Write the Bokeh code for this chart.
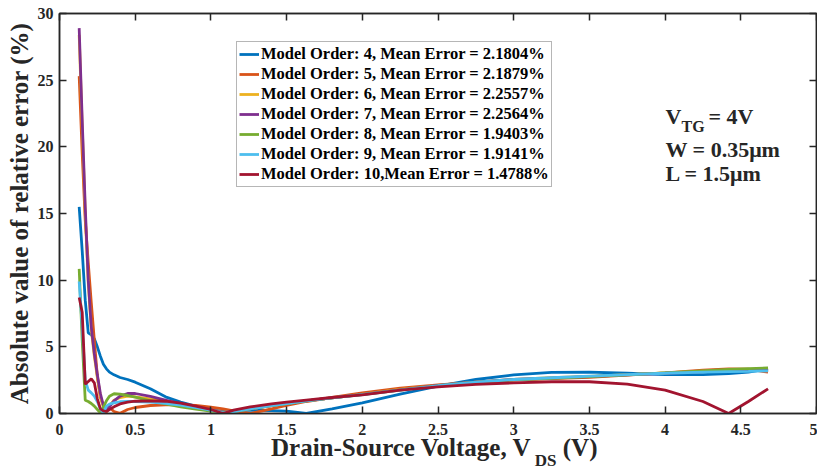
from bokeh.embed import file_html
from bokeh.models import (CustomJSTickFormatter, FixedTicker, Label, LinearAxis,
                          Range1d)
from bokeh.plotting import figure
from bokeh.resources import INLINE

# Drain-source voltage samples (V)
vds = [0.13, 0.15, 0.17, 0.19, 0.21, 0.23, 0.25, 0.27, 0.29, 0.31,
       0.33, 0.36, 0.40, 0.45, 0.50, 0.60, 0.70, 0.80, 0.90, 1.00,
       1.08, 1.15, 1.26, 1.40, 1.50, 1.63, 1.80, 2.00, 2.25, 2.50,
       2.75, 3.00, 3.25, 3.50, 3.75, 4.00, 4.25, 4.42, 4.55, 4.68]

# Absolute relative error (%) for each model order
err_order4 = [15.5, 12.2, 8.5, 6.05, 5.9, 5.6, 5.0, 4.3, 3.7, 3.35,
              3.1, 2.9, 2.7, 2.55, 2.35, 1.85, 1.25, 0.85, 0.55, 0.3,
              0.15, 0.2, 0.25, 0.22, 0.18, 0.0, 0.35, 0.8, 1.45, 2.05,
              2.55, 2.9, 3.08, 3.1, 3.02, 2.92, 2.92, 3.0, 3.1, 3.35]
err_order5 = [25.3, 19.5, 14.5, 11.3, 8.3, 5.5, 2.8, 1.2, 0.6, 0.5,
              0.45, 0.15, 0.02, 0.3, 0.45, 0.6, 0.65, 0.65, 0.6, 0.48,
              0.35, 0.2, 0.0, 0.35, 0.6, 0.9, 1.2, 1.55, 1.9, 2.15,
              2.35, 2.5, 2.62, 2.72, 2.88, 3.05, 3.25, 3.35, 3.32, 3.1]
err_order6 = [28.4, 21.5, 15.0, 9.8, 6.3, 4.3, 2.7, 1.3, 0.45, 0.1,
              0.55, 1.0, 1.2, 1.3, 1.25, 1.1, 0.9, 0.65, 0.45, 0.28,
              0.1, 0.15, 0.35, 0.6, 0.75, 0.95, 1.18, 1.45, 1.8, 2.1,
              2.35, 2.55, 2.68, 2.78, 2.92, 3.05, 3.18, 3.25, 3.28, 3.3]
err_order7 = [28.9, 22.0, 15.5, 10.0, 6.5, 4.5, 2.9, 1.5, 0.6, 0.15,
              0.5, 0.95, 1.3, 1.5, 1.5, 1.28, 1.0, 0.72, 0.48, 0.28,
              0.08, 0.15, 0.35, 0.6, 0.75, 0.95, 1.17, 1.43, 1.78, 2.1,
              2.35, 2.55, 2.66, 2.76, 2.9, 3.02, 3.15, 3.22, 3.26, 3.28]
err_order8 = [10.85, 5.5, 1.0, 0.9, 0.75, 0.55, 0.3, 0.05, 0.5, 0.95,
              1.3, 1.48, 1.45, 1.35, 1.22, 0.95, 0.72, 0.5, 0.33, 0.18,
              0.05, 0.15, 0.35, 0.6, 0.75, 0.95, 1.17, 1.42, 1.76, 2.08,
              2.33, 2.52, 2.64, 2.76, 2.9, 3.05, 3.2, 3.3, 3.36, 3.42]
err_order9 = [9.9, 6.5, 2.5, 1.75, 1.55, 1.3, 0.9, 0.35, 0.05, 0.55,
              0.7, 0.8, 0.88, 0.9, 0.9, 0.86, 0.76, 0.62, 0.45, 0.25,
              0.05, 0.15, 0.35, 0.6, 0.75, 0.95, 1.17, 1.42, 1.76, 2.08,
              2.35, 2.55, 2.68, 2.8, 2.92, 3.02, 3.1, 3.14, 3.16, 3.2]
err_order10 = [8.7, 7.6, 2.2, 2.4, 2.6, 2.3, 1.1, 0.35, 0.2, 0.15,
               0.3, 0.5, 0.72, 0.85, 0.92, 0.95, 0.92, 0.78, 0.55, 0.3,
               0.0, 0.25, 0.5, 0.72, 0.85, 1.0, 1.2, 1.4, 1.75, 2.0,
               2.18, 2.3, 2.38, 2.38, 2.2, 1.75, 0.9, 0.0, 0.9, 1.85]

legend_labels = [
    "Model Order: 4, Mean Error = 2.1804%",
    "Model Order: 5, Mean Error = 2.1879%",
    "Model Order: 6, Mean Error = 2.2557%",
    "Model Order: 7, Mean Error = 2.2564%",
    "Model Order: 8, Mean Error = 1.9403%",
    "Model Order: 9, Mean Error = 1.9141%",
    "Model Order: 10,Mean Error = 1.4788%",
]

x_ticks = [0, 0.5, 1, 1.5, 2, 2.5, 3, 3.5, 4, 4.5, 5]
y_ticks = [0, 5, 10, 15, 20, 25, 30]

series = [err_order4, err_order5, err_order6, err_order7,
          err_order8, err_order9, err_order10]
colors = ["#0072BD", "#D95319", "#EDB120", "#7E2F8E",
          "#77AC30", "#4DBEEE", "#A2142F"]

FONT = "Liberation Serif"
INK = "#262626"

p = figure(width=817, height=473,
           x_range=Range1d(0, 5), y_range=Range1d(0, 30),
           output_backend="svg", toolbar_location=None,
           min_border_left=59, min_border_right=1,
           min_border_top=13, min_border_bottom=60)
p.xgrid.visible = False
p.ygrid.visible = False
p.outline_line_color = INK
p.outline_line_width = 1.5
p.background_fill_color = "white"
p.border_fill_color = "white"

for ys, col, lab in zip(series, colors, legend_labels):
    p.line(vds, ys, line_color=col, line_width=2.8, legend_label=lab)


def style_axis(ax, show_labels):
    ax.major_tick_in = 7
    ax.major_tick_out = 0
    ax.minor_tick_in = 0
    ax.minor_tick_out = 0
    ax.axis_line_color = INK
    ax.axis_line_width = 1.5
    ax.major_tick_line_color = INK
    ax.major_tick_line_width = 1.5
    ax.major_label_text_font = FONT
    ax.major_label_text_font_style = "bold"
    ax.major_label_text_color = INK
    ax.major_label_text_font_size = "16px"
    if not show_labels:
        # mirrored box ticks only, no numbers
        ax.major_label_text_color = None
        ax.major_label_text_font_size = "1px"
        ax.major_label_standoff = 0


fmt = CustomJSTickFormatter(code="return String(tick);")

xax = p.xaxis[0]
xax.ticker = FixedTicker(ticks=x_ticks)
xax.formatter = fmt
style_axis(xax, True)
xax.major_label_standoff = 10

yax = p.yaxis[0]
yax.ticker = FixedTicker(ticks=y_ticks)
yax.formatter = fmt
style_axis(yax, True)
yax.major_label_standoff = 6
yax.axis_label = "Absolute value of relative error (%)"
yax.axis_label_text_font = FONT
yax.axis_label_text_font_style = "bold"
yax.axis_label_text_font_size = "25px"
yax.axis_label_text_color = INK
yax.axis_label_standoff = 2

top_ax = LinearAxis(ticker=FixedTicker(ticks=x_ticks))
style_axis(top_ax, False)
p.add_layout(top_ax, "above")

right_ax = LinearAxis(ticker=FixedTicker(ticks=y_ticks))
style_axis(right_ax, False)
p.add_layout(right_ax, "right")


def title_axis(pieces, centers, size, standoff):
    """Extra unlined axis whose only labels are the pieces of the x title."""
    ax = LinearAxis(ticker=FixedTicker(ticks=centers))
    ax.formatter = CustomJSTickFormatter(
        args=dict(pos=centers, txt=pieces),
        code="""
let k = 0, best = 1e9;
for (let i = 0; i < pos.length; i++) {
  const d = Math.abs(pos[i] - tick);
  if (d < best) { best = d; k = i; }
}
return txt[k];
""")
    ax.axis_line_color = None
    ax.major_tick_line_color = None
    ax.minor_tick_line_color = None
    ax.major_tick_in = 0
    ax.major_tick_out = 0
    ax.minor_tick_in = 0
    ax.minor_tick_out = 0
    ax.major_label_text_font = FONT
    ax.major_label_text_font_style = "bold"
    ax.major_label_text_font_size = size
    ax.major_label_text_color = INK
    ax.major_label_standoff = standoff
    p.add_layout(ax, "below")


# x title: "Drain-Source Voltage, V" + subscript "DS" + " (V)"
title_axis(["Drain-Source Voltage, V", "(V)"], [2.257, 3.439], "25px", -4)
title_axis(["DS"], [3.211], "17px", -13)

leg = p.legend[0]
leg.location = (177, 226)
leg.label_text_font = FONT
leg.label_text_font_style = "bold"
leg.label_text_font_size = "16.5px"
leg.label_text_color = "black"
leg.glyph_width = 20
leg.glyph_height = 18
leg.label_height = 18
leg.spacing = 0
leg.padding = 2
leg.margin = 0
leg.label_standoff = 2
leg.border_line_color = "#6e6e6e"
leg.border_line_width = 1.5
leg.background_fill_alpha = 1.0


def add_text(x, y, text, size):
    p.add_layout(Label(x=x, y=y, x_units="screen", y_units="screen", text=text,
                       text_font=FONT, text_font_style="bold", text_font_size=size,
                       text_color=INK, text_align="left",
                       text_baseline="alphabetic"))


# Device conditions
add_text(606, 297, "V", "22px")
add_text(622, 287, "TG", "16px")
add_text(649, 297, "= 4V", "22px")
add_text(606, 264, "W = 0.35\u03bcm", "22px")
add_text(606, 240, "L = 1.5\u03bcm", "22px")

open("out.html", "w").write(file_html(p, INLINE))
